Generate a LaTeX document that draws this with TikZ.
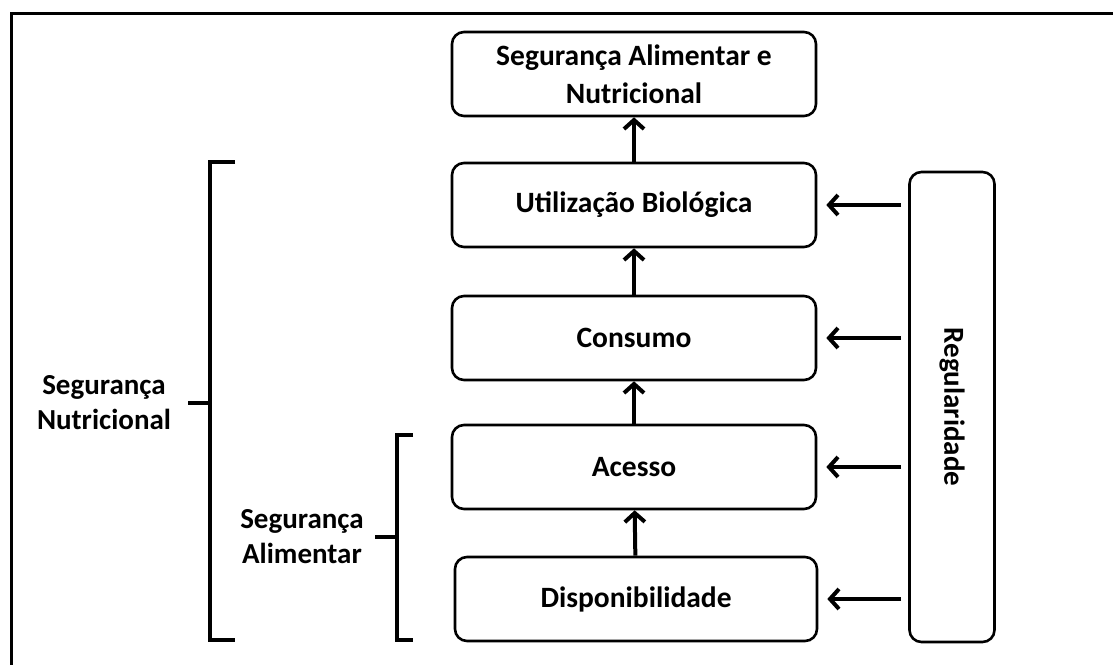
\documentclass[tikz,border=0pt]{standalone}
\usepackage{fontspec}
\setmainfont{Carlito}
\usetikzlibrary{arrows.meta}

\begin{document}
\begin{tikzpicture}[x=1pt,y=-1pt,
    caixa/.style={draw,line width=2.6pt,rounded corners=12pt,minimum width=364pt,minimum height=84pt,align=center,font=\fontsize{29.5}{38}\selectfont\bfseries},
    seta/.style={line width=4pt,-{Straight Barb[length=9pt,width=20pt,line width=4pt]}},
    rotulo/.style={align=center,font=\fontsize{29}{35}\selectfont\bfseries},
    chave/.style={line width=3.5pt}]
      \useasboundingbox (0,0) rectangle (1113,664);
      % moldura
      \draw[line width=3pt] (11,700) -- (11,13) -- (1120,13);
      % caixas
      \node[caixa] (san) at (634,74) {Segurança Alimentar e\\Nutricional};
      \node[caixa] (util) at (634,205) {Utilização Biológica};
      \node[caixa] (cons) at (634,338) {Consumo};
      \node[caixa] (aces) at (634,467) {Acesso};
      \node[caixa,minimum width=362pt] (disp) at (636,599) {Disponibilidade};
      \node[caixa,minimum width=85pt,minimum height=470pt] (regul) at (952,407) {};
      \node[rotulo,rotate=-90] at (regul.center) {Regularidade};
      % setas verticais
      \draw[seta] (disp) -- (aces);
      \draw[seta] (aces) -- (cons);
      \draw[seta] (cons) -- (util);
      \draw[seta] (util) -- (san);
      % setas da regularidade
      \foreach \n in {util,cons,aces,disp}
        \draw[seta,shorten >=9pt,shorten <=7pt] (regul.west |- \n.east) -- (\n.east);
      % chaves
      \draw[chave] (235,162) -- (210,162) -- (210,640) -- (235,640);
      \draw[chave] (188,403) -- (210,403);
      \draw[chave] (413,435) -- (397,435) -- (397,640) -- (413,640);
      \draw[chave] (375,537) -- (397,537);
      \node[rotulo] (nutri) at (104,403) {Segurança\\Nutricional};
      \node[rotulo] (alim) at (302,537) {Segurança\\Alimentar};
\end{tikzpicture}
\end{document}
